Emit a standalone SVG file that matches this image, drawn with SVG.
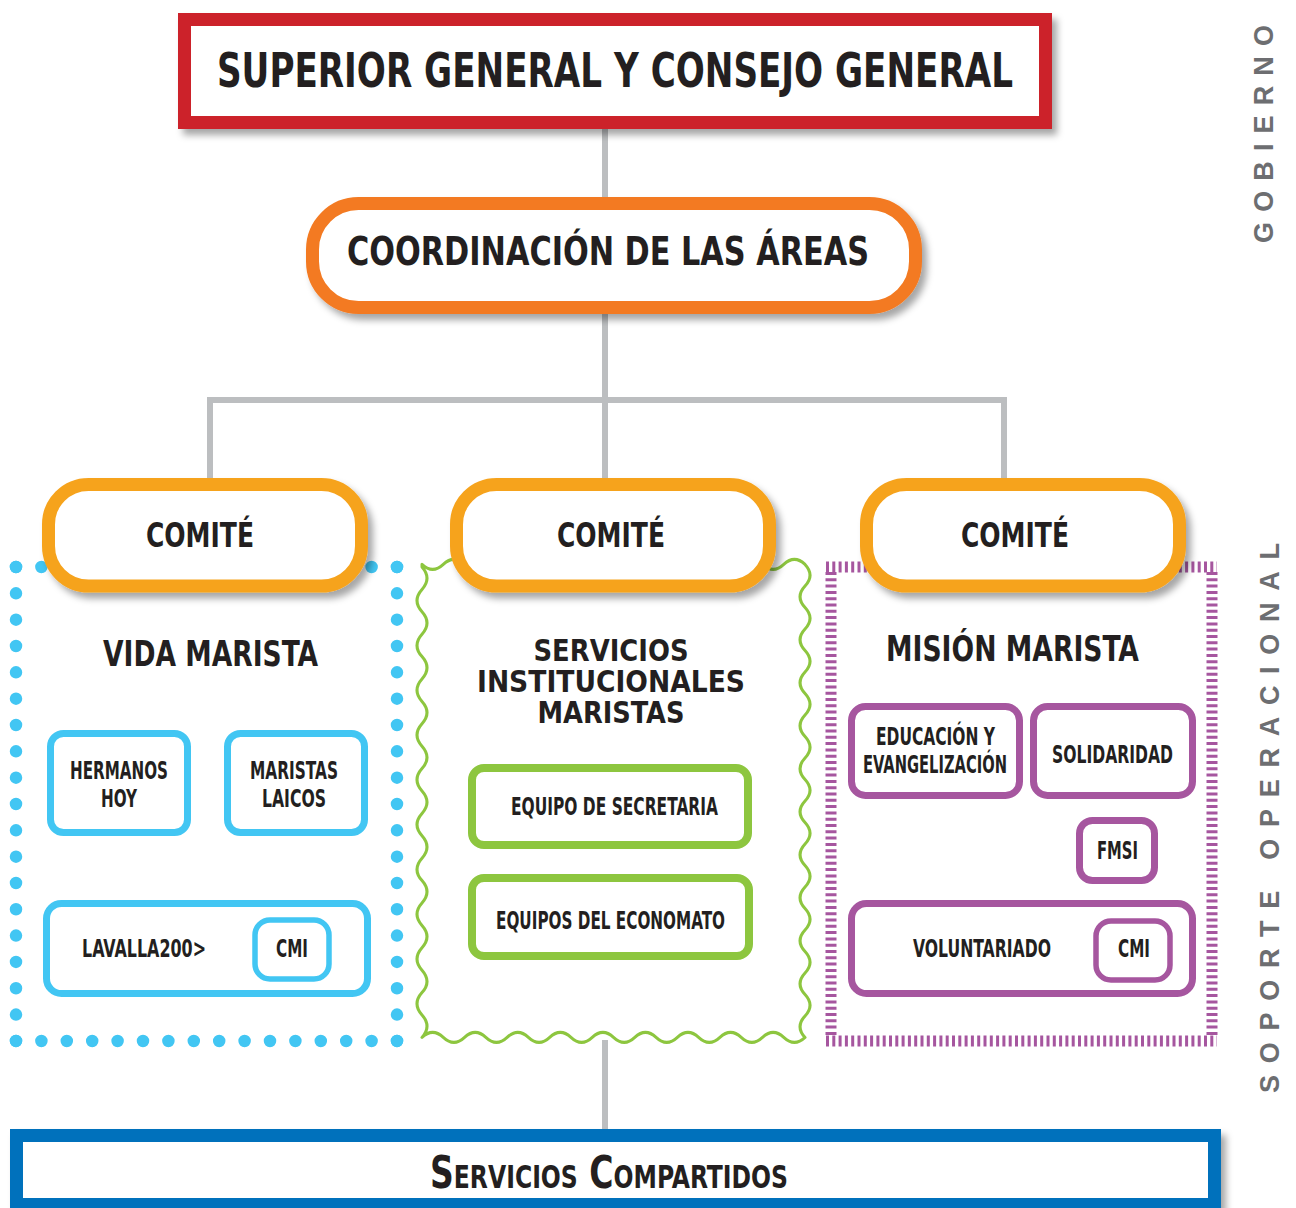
<svg xmlns="http://www.w3.org/2000/svg" width="1296" height="1208" viewBox="0 0 1296 1208">
<defs>
<filter id="sh" x="-10%" y="-20%" width="125%" height="150%">
<feDropShadow dx="5" dy="6" stdDeviation="3.5" flood-color="#000" flood-opacity="0.35"/>
</filter>
<style>
text{font-family:"Liberation Sans Narrow","DejaVu Sans Condensed","Liberation Sans",sans-serif;font-weight:bold;fill:#231f20;text-anchor:middle;font-stretch:condensed}
.side{font-family:"Liberation Sans","DejaVu Sans",sans-serif;fill:#6d6e71;text-anchor:start;font-stretch:normal;font-size:27px}
.conn{stroke:#bcbec0;stroke-width:6;fill:none}
.b{fill:#fff;stroke:#42c6f3;stroke-width:7}
.g{fill:#fff;stroke:#8dc63f;stroke-width:8}
.p{fill:#fff;stroke:#a6569f;stroke-width:7}
.com{fill:#fff;stroke:#f6a31d;stroke-width:13}
.dot{stroke:#42c6f3;stroke-width:12.5;stroke-linecap:round;fill:none}
.hat{stroke:#a6569f;stroke-width:11;fill:none;stroke-dasharray:3 3.3}
.sm{font-size:25px}
.hd{font-size:35px}
.hd3{font-size:31px}
</style>
</defs>
<rect width="1296" height="1208" fill="#fff"/>

<g id="connectors">
<line class="conn" x1="605" y1="125" x2="605" y2="205"/>
<line class="conn" x1="605" y1="305" x2="605" y2="485"/>
<polyline class="conn" points="210,485 210,400 1004,400 1004,485"/>
<line class="conn" x1="605" y1="1040" x2="605" y2="1134"/>
</g>

<g id="panel-vida">
<line class="dot" x1="16" y1="567" x2="397" y2="567" stroke-dasharray="0 25.4"/>
<line class="dot" x1="16" y1="1041" x2="397" y2="1041" stroke-dasharray="0 25.4"/>
<line class="dot" x1="16" y1="567" x2="16" y2="1041" stroke-dasharray="0 26.33"/>
<line class="dot" x1="397" y1="567" x2="397" y2="1041" stroke-dasharray="0 26.33"/>
</g>

<g id="panel-servicios">
<path fill="none" stroke="#8dc63f" stroke-width="3" stroke-linejoin="round" d="M422 567 q10 11.2 0 22.4 t0 22.4 t0 22.4 t0 22.4 t0 22.4 t0 22.4 t0 22.4 t0 22.4 t0 22.4 t0 22.4 t0 22.4 t0 22.4 t0 22.4 t0 22.4 t0 22.4 t0 22.4 t0 22.4 t0 22.4 t0 22.4 t0 22.4 t0 22.4 q10.64 -10 21.28 0 t21.28 0 t21.28 0 t21.28 0 t21.28 0 t21.28 0 t21.28 0 t21.28 0 t21.28 0 t21.28 0 t21.28 0 t21.28 0 t21.28 0 t21.28 0 t21.28 0 t21.28 0 t21.28 0 t21.28 0 q-10 -10.75 0 -21.5 t0 -21.5 t0 -21.5 t0 -21.5 t0 -21.5 t0 -21.5 t0 -21.5 t0 -21.5 t0 -21.5 t0 -21.5 t0 -21.5 t0 -21.5 t0 -21.5 t0 -21.5 t0 -21.5 t0 -21.5 t0 -21.5 t0 -21.5 t0 -21.5 t0 -21.5 t0 -21.5 t0 -21.5 q-10.64 -10 -21.28 0 t-21.28 0 t-21.28 0 t-21.28 0 t-21.28 0 t-21.28 0 t-21.28 0 t-21.28 0 t-21.28 0 t-21.28 0 t-21.28 0 t-21.28 0 t-21.28 0 t-21.28 0 t-21.28 0 t-21.28 0 t-21.28 0 t-21.28 0 Z"/>
</g>

<g id="panel-mision">
<line class="hat" x1="826" y1="567" x2="1217" y2="567"/>
<line class="hat" x1="826" y1="1041" x2="1217" y2="1041"/>
<line class="hat" x1="831" y1="572" x2="831" y2="1036"/>
<line class="hat" x1="1212" y1="572" x2="1212" y2="1036"/>
</g>

<g id="superior">
<rect x="184.5" y="19.5" width="861" height="103" fill="#fff" stroke="#cc2229" stroke-width="13" filter="url(#sh)"/>
<text x="615" y="87" font-size="48" textLength="796" lengthAdjust="spacingAndGlyphs">SUPERIOR GENERAL Y CONSEJO GENERAL</text>
</g>

<g id="coordinacion">
<rect x="312.5" y="203.5" width="603" height="104" rx="46" fill="#fff" stroke="#f37a21" stroke-width="13" filter="url(#sh)"/>
<text x="608" y="265" font-size="39" textLength="522" lengthAdjust="spacingAndGlyphs">COORDINACIÓN DE LAS ÁREAS</text>
</g>

<g id="comite-1">
<rect class="com" x="48.5" y="484.5" width="313" height="101.5" rx="40" filter="url(#sh)"/>
<text x="200" y="547" font-size="34" textLength="108" lengthAdjust="spacingAndGlyphs">COMITÉ</text>
</g>
<g id="comite-2">
<rect class="com" x="456.5" y="484.5" width="313" height="101.5" rx="40" filter="url(#sh)"/>
<text x="611" y="547" font-size="34" textLength="108" lengthAdjust="spacingAndGlyphs">COMITÉ</text>
</g>
<g id="comite-3">
<rect class="com" x="866.5" y="484.5" width="313" height="101.5" rx="40" filter="url(#sh)"/>
<text x="1015" y="547" font-size="34" textLength="108" lengthAdjust="spacingAndGlyphs">COMITÉ</text>
</g>

<g id="vida-marista">
<text class="hd" x="210.5" y="666" textLength="215" lengthAdjust="spacingAndGlyphs">VIDA MARISTA</text>
</g>
<g id="hermanos-hoy">
<rect class="b" x="50.5" y="733.5" width="137" height="99" rx="13"/>
<text class="sm" x="119" y="779" textLength="98" lengthAdjust="spacingAndGlyphs">HERMANOS</text>
<text class="sm" x="119" y="807" textLength="36" lengthAdjust="spacingAndGlyphs">HOY</text>
</g>
<g id="maristas-laicos">
<rect class="b" x="227.5" y="733.5" width="137" height="99" rx="13"/>
<text class="sm" x="294" y="779" textLength="88" lengthAdjust="spacingAndGlyphs">MARISTAS</text>
<text class="sm" x="294" y="807" textLength="64" lengthAdjust="spacingAndGlyphs">LAICOS</text>
</g>
<g id="lavalla">
<rect class="b" x="46.5" y="903.5" width="321" height="90" rx="15"/>
<text class="sm" x="144" y="957" textLength="124" lengthAdjust="spacingAndGlyphs">LAVALLA200&gt;</text>
</g>
<g id="cmi-1">
<rect x="255" y="920" width="74" height="59" rx="15" fill="#fff" stroke="#42c6f3" stroke-width="5.5"/>
<text class="sm" x="292" y="957" textLength="32" lengthAdjust="spacingAndGlyphs">CMI</text>
</g>

<g id="servicios-institucionales">
<text class="hd3" x="611" y="661" textLength="155" lengthAdjust="spacingAndGlyphs">SERVICIOS</text>
<text class="hd3" x="611" y="692" textLength="268" lengthAdjust="spacingAndGlyphs">INSTITUCIONALES</text>
<text class="hd3" x="611" y="723" textLength="147" lengthAdjust="spacingAndGlyphs">MARISTAS</text>
</g>
<g id="equipo-secretaria">
<rect class="g" x="472" y="768" width="276" height="77" rx="12"/>
<text class="sm" x="614.5" y="815" textLength="207" lengthAdjust="spacingAndGlyphs">EQUIPO DE SECRETARIA</text>
</g>
<g id="equipos-economato">
<rect class="g" x="472" y="878" width="277" height="78" rx="12"/>
<text class="sm" x="610.5" y="929" textLength="229" lengthAdjust="spacingAndGlyphs">EQUIPOS DEL ECONOMATO</text>
</g>

<g id="mision-marista">
<text class="hd" x="1012.5" y="661" textLength="253" lengthAdjust="spacingAndGlyphs">MISIÓN MARISTA</text>
</g>
<g id="educacion">
<rect class="p" x="851.5" y="706.5" width="168" height="89" rx="14"/>
<text class="sm" x="935.5" y="745" textLength="119" lengthAdjust="spacingAndGlyphs">EDUCACIÓN Y</text>
<text class="sm" x="935" y="773" textLength="144" lengthAdjust="spacingAndGlyphs">EVANGELIZACIÓN</text>
</g>
<g id="solidaridad">
<rect class="p" x="1033.5" y="706.5" width="159" height="89" rx="14"/>
<text class="sm" x="1112.5" y="763" textLength="121" lengthAdjust="spacingAndGlyphs">SOLIDARIDAD</text>
</g>
<g id="fmsi">
<rect class="p" x="1079.5" y="820.5" width="75" height="60" rx="13"/>
<text class="sm" x="1117.5" y="859" textLength="41" lengthAdjust="spacingAndGlyphs">FMSI</text>
</g>
<g id="voluntariado">
<rect class="p" x="851.5" y="903.5" width="341" height="90" rx="15"/>
<text class="sm" x="982" y="957" textLength="138" lengthAdjust="spacingAndGlyphs">VOLUNTARIADO</text>
</g>
<g id="cmi-2">
<rect x="1096" y="921" width="74" height="59" rx="15" fill="#fff" stroke="#a6569f" stroke-width="5.5"/>
<text class="sm" x="1134" y="957" textLength="32" lengthAdjust="spacingAndGlyphs">CMI</text>
</g>

<g id="servicios-compartidos">
<rect x="16.5" y="1135.5" width="1198" height="69" fill="#fff" stroke="#0071bc" stroke-width="13" filter="url(#sh)"/>
<text x="609" y="1188" font-size="45" font-variant="small-caps" textLength="358" lengthAdjust="spacingAndGlyphs">Servicios Compartidos</text>
</g>

<g id="side-labels">
<text class="side" transform="translate(1273,243) rotate(-90)" textLength="218" lengthAdjust="spacing">GOBIERNO</text>
<text class="side" transform="translate(1279,1093) rotate(-90)" textLength="550" lengthAdjust="spacing">SOPORTE OPERACIONAL</text>
</g>
</svg>
